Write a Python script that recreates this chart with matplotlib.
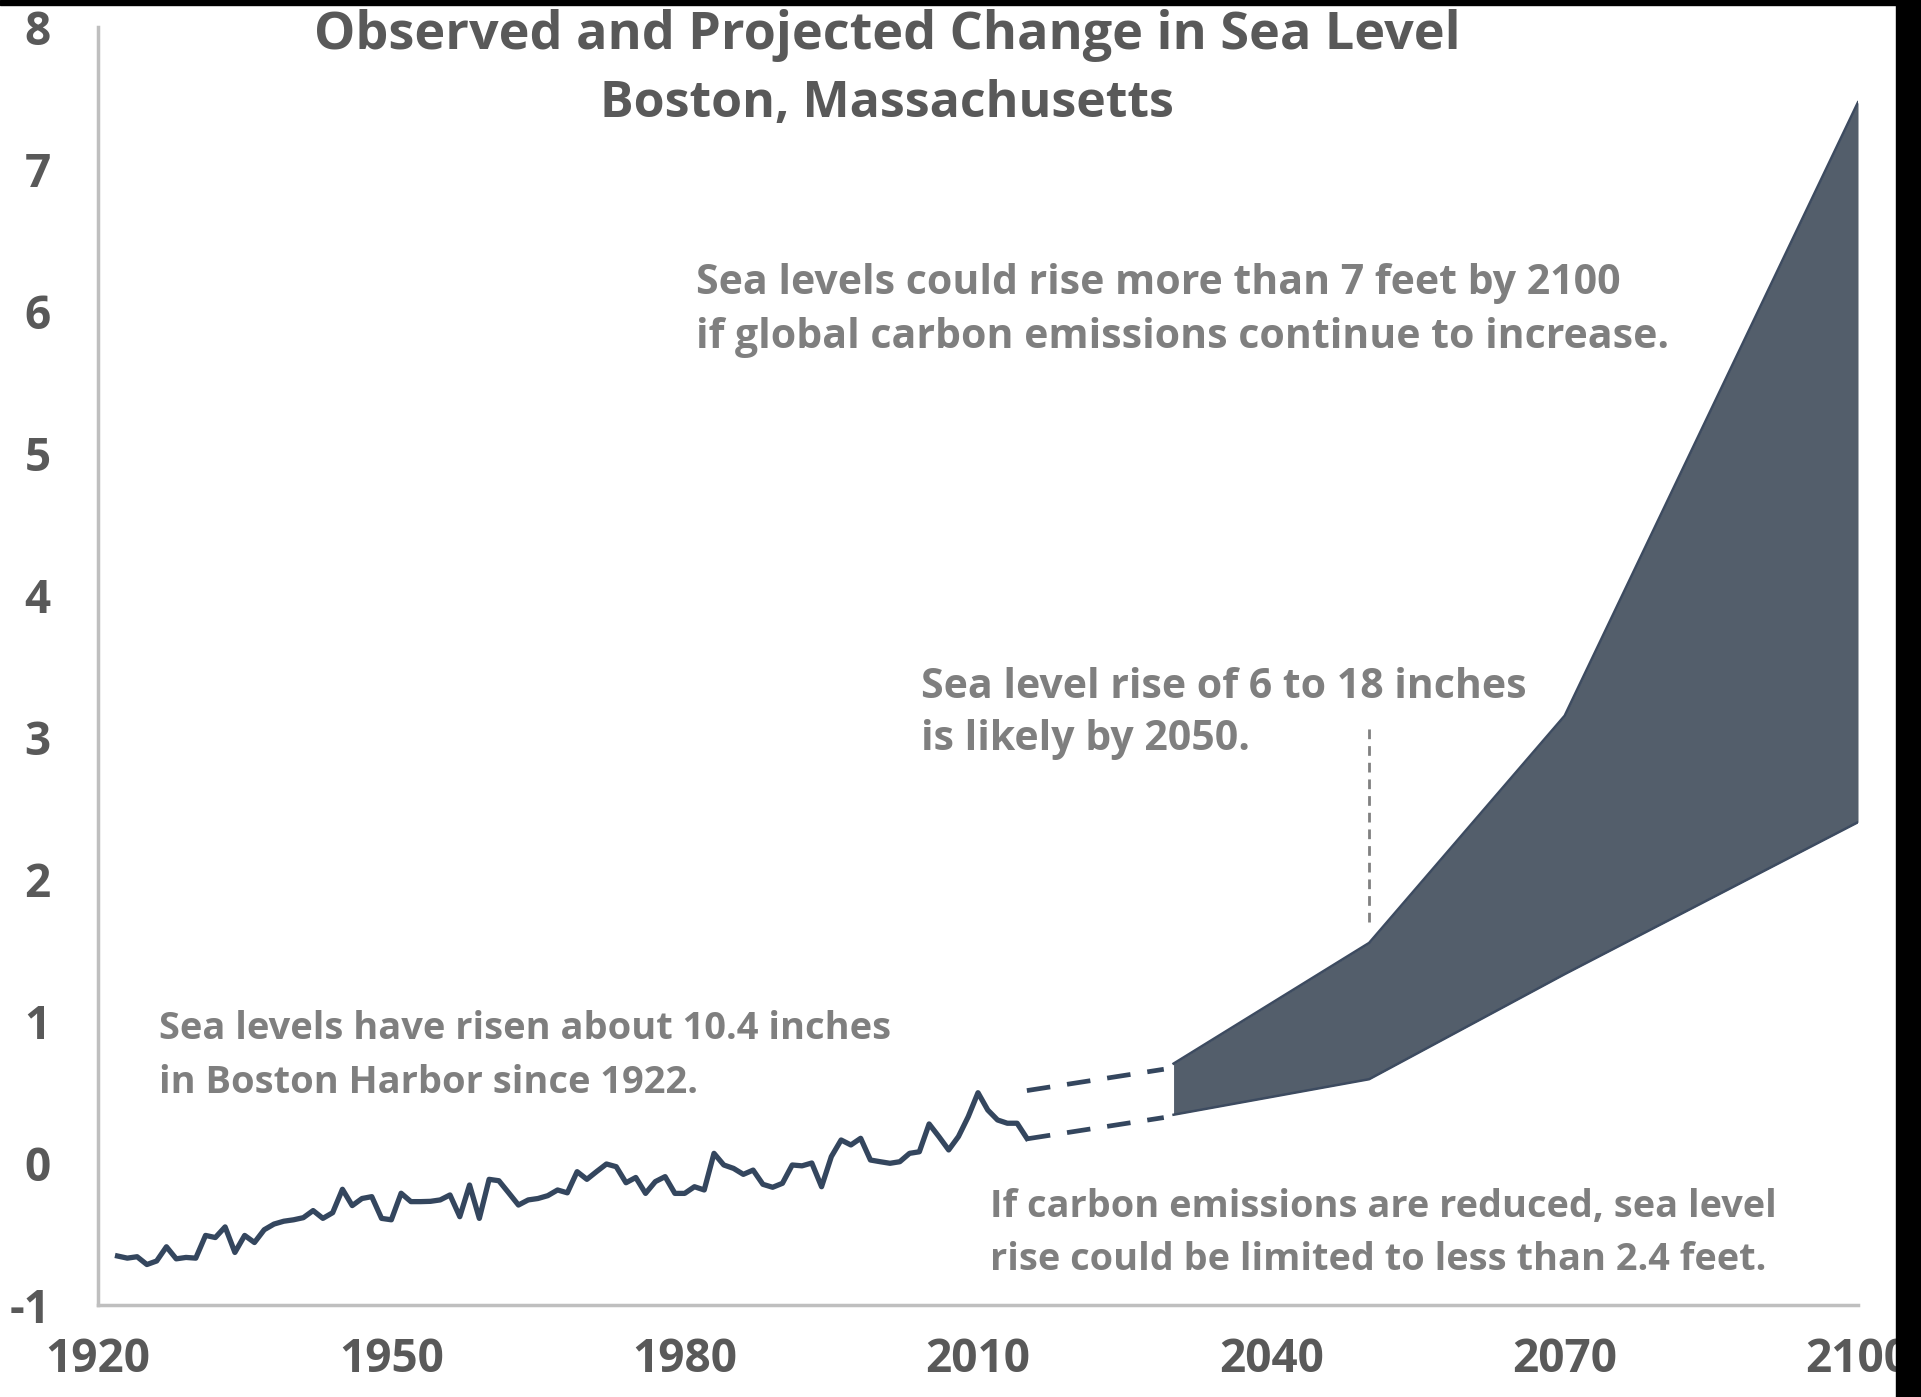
"""Observed and projected change in sea level, Boston MA: annual observed line + projection band."""
import numpy as np
import matplotlib; matplotlib.use("Agg"); import matplotlib.pyplot as plt
from matplotlib.patches import Rectangle

plt.rcParams['font.family'] = ['Open Sans', 'DejaVu Sans']
plt.rcParams['axes.unicode_minus'] = False

# observed annual sea level (feet), 1922-2015
obs_years = list(range(1922, 2016))
obs_ft = [-0.655, -0.67, -0.66, -0.715, -0.69, -0.59, -0.675, -0.665, -0.67, -0.51,
          -0.525, -0.45, -0.63, -0.51, -0.56, -0.47, -0.43, -0.41, -0.40, -0.385,
          -0.335, -0.39, -0.35, -0.185, -0.30, -0.25, -0.237, -0.39, -0.40, -0.213,
          -0.272, -0.272, -0.27, -0.26, -0.225, -0.378, -0.155, -0.39, -0.115, -0.125,
          -0.21, -0.296, -0.26, -0.25, -0.23, -0.19, -0.21, -0.061, -0.115, -0.06,
          -0.007, -0.026, -0.139, -0.102, -0.214, -0.131, -0.096, -0.214, -0.214, -0.167,
          -0.19, 0.068, -0.014, -0.038, -0.08, -0.05, -0.15, -0.171, -0.143, -0.014,
          -0.02, 0.0, -0.167, 0.045, 0.162, 0.127, 0.174, 0.021, 0.009, -0.002,
          0.009, 0.068, 0.079, 0.275, 0.186, 0.092, 0.186, 0.326, 0.495, 0.373,
          0.303, 0.28, 0.28, 0.174]

# projection band (feet)
proj_years = [2030, 2050, 2070, 2100]
proj_high = [0.70, 1.55, 3.15, 7.47]
proj_low = [0.34, 0.59, 1.33, 2.40]

# dashed bridges from observed record to projections
bridge_years = [2015, 2029]
bridge_high = [0.51, 0.66]
bridge_low = [0.17, 0.32]

# 2050 pointer
pointer_year = 2050
pointer_range = [1.70, 3.08]

W, H = 1921, 1397
fig = plt.figure(figsize=(W/100, H/100), dpi=100)
ax = fig.add_axes([98/W, 1-1305/H, (1858-98)/W, (1305-27)/H])

LINE = '#34465e'; FILL = '#535e6b'; EDGE = '#3d4b60'
TXT = '#7f7f7f'; DARK = '#595959'

ax.plot(obs_years, obs_ft, color=LINE, lw=3.8, solid_joinstyle='round', zorder=3)
for yv in (bridge_high, bridge_low):
    ax.plot(bridge_years, yv, color=LINE, lw=3.4, dashes=(5, 3.6), zorder=3)
ax.fill_between(proj_years, proj_low, proj_high, color=FILL, lw=0, zorder=2)
ax.plot(proj_years, proj_high, color=EDGE, lw=1.8, zorder=2)
ax.plot(proj_years, proj_low, color=EDGE, lw=1.8, zorder=2)
ax.plot([pointer_year, pointer_year], pointer_range, color='#808080', lw=2, dashes=(3.5, 2.5), zorder=2)

ax.set_xlim(1920, 2100); ax.set_ylim(-1, 8)
ax.set_xticks(range(1920, 2101, 30)); ax.set_yticks(range(-1, 9))
ax.tick_params(length=0, labelsize=33, labelcolor=DARK)
ax.tick_params(axis='y', pad=34)
ax.tick_params(axis='x', pad=22)
for lab in ax.get_xticklabels() + ax.get_yticklabels():
    lab.set_fontweight('bold')
for s in ('top', 'right'):
    ax.spines[s].set_visible(False)
for s in ('left', 'bottom'):
    ax.spines[s].set_color('#bfbfbf'); ax.spines[s].set_linewidth(2.5)

def ftext(x, y, s, size, color, ha='left'):
    fig.text(x/W, 1-y/H, s, fontsize=size, color=color, fontweight='bold', ha=ha, va='center')

ftext(887, 35, "Observed and Projected Change in Sea Level", 37.5, DARK, ha='center')
ftext(887, 104, "Boston, Massachusetts", 36, DARK, ha='center')
ftext(696, 284, "Sea levels could rise more than 7 feet by 2100", 29.5, TXT)
ftext(696, 337, "if global carbon emissions continue to increase.", 29.5, TXT)
ftext(921, 688, "Sea level rise of 6 to 18 inches", 29.5, TXT)
ftext(921, 740, "is likely by 2050.", 29.5, TXT)
ftext(159, 1029, "Sea levels have risen about 10.4 inches", 27.4, TXT)
ftext(159, 1083, "in Boston Harbor since 1922.", 27.4, TXT)
ftext(990, 1207, "If carbon emissions are reduced, sea level", 27.3, TXT)
ftext(990, 1260, "rise could be limited to less than 2.4 feet.", 27.3, TXT)

# black frame strips at top and right edge of the source image
fig.patches.append(Rectangle((0, 1-5/H), 1, 5/H, transform=fig.transFigure, color='black', zorder=10))
fig.patches.append(Rectangle((1896/W, 0), 1-1896/W, 1, transform=fig.transFigure, color='black', zorder=10))

fig.savefig("out.png", dpi=100)
